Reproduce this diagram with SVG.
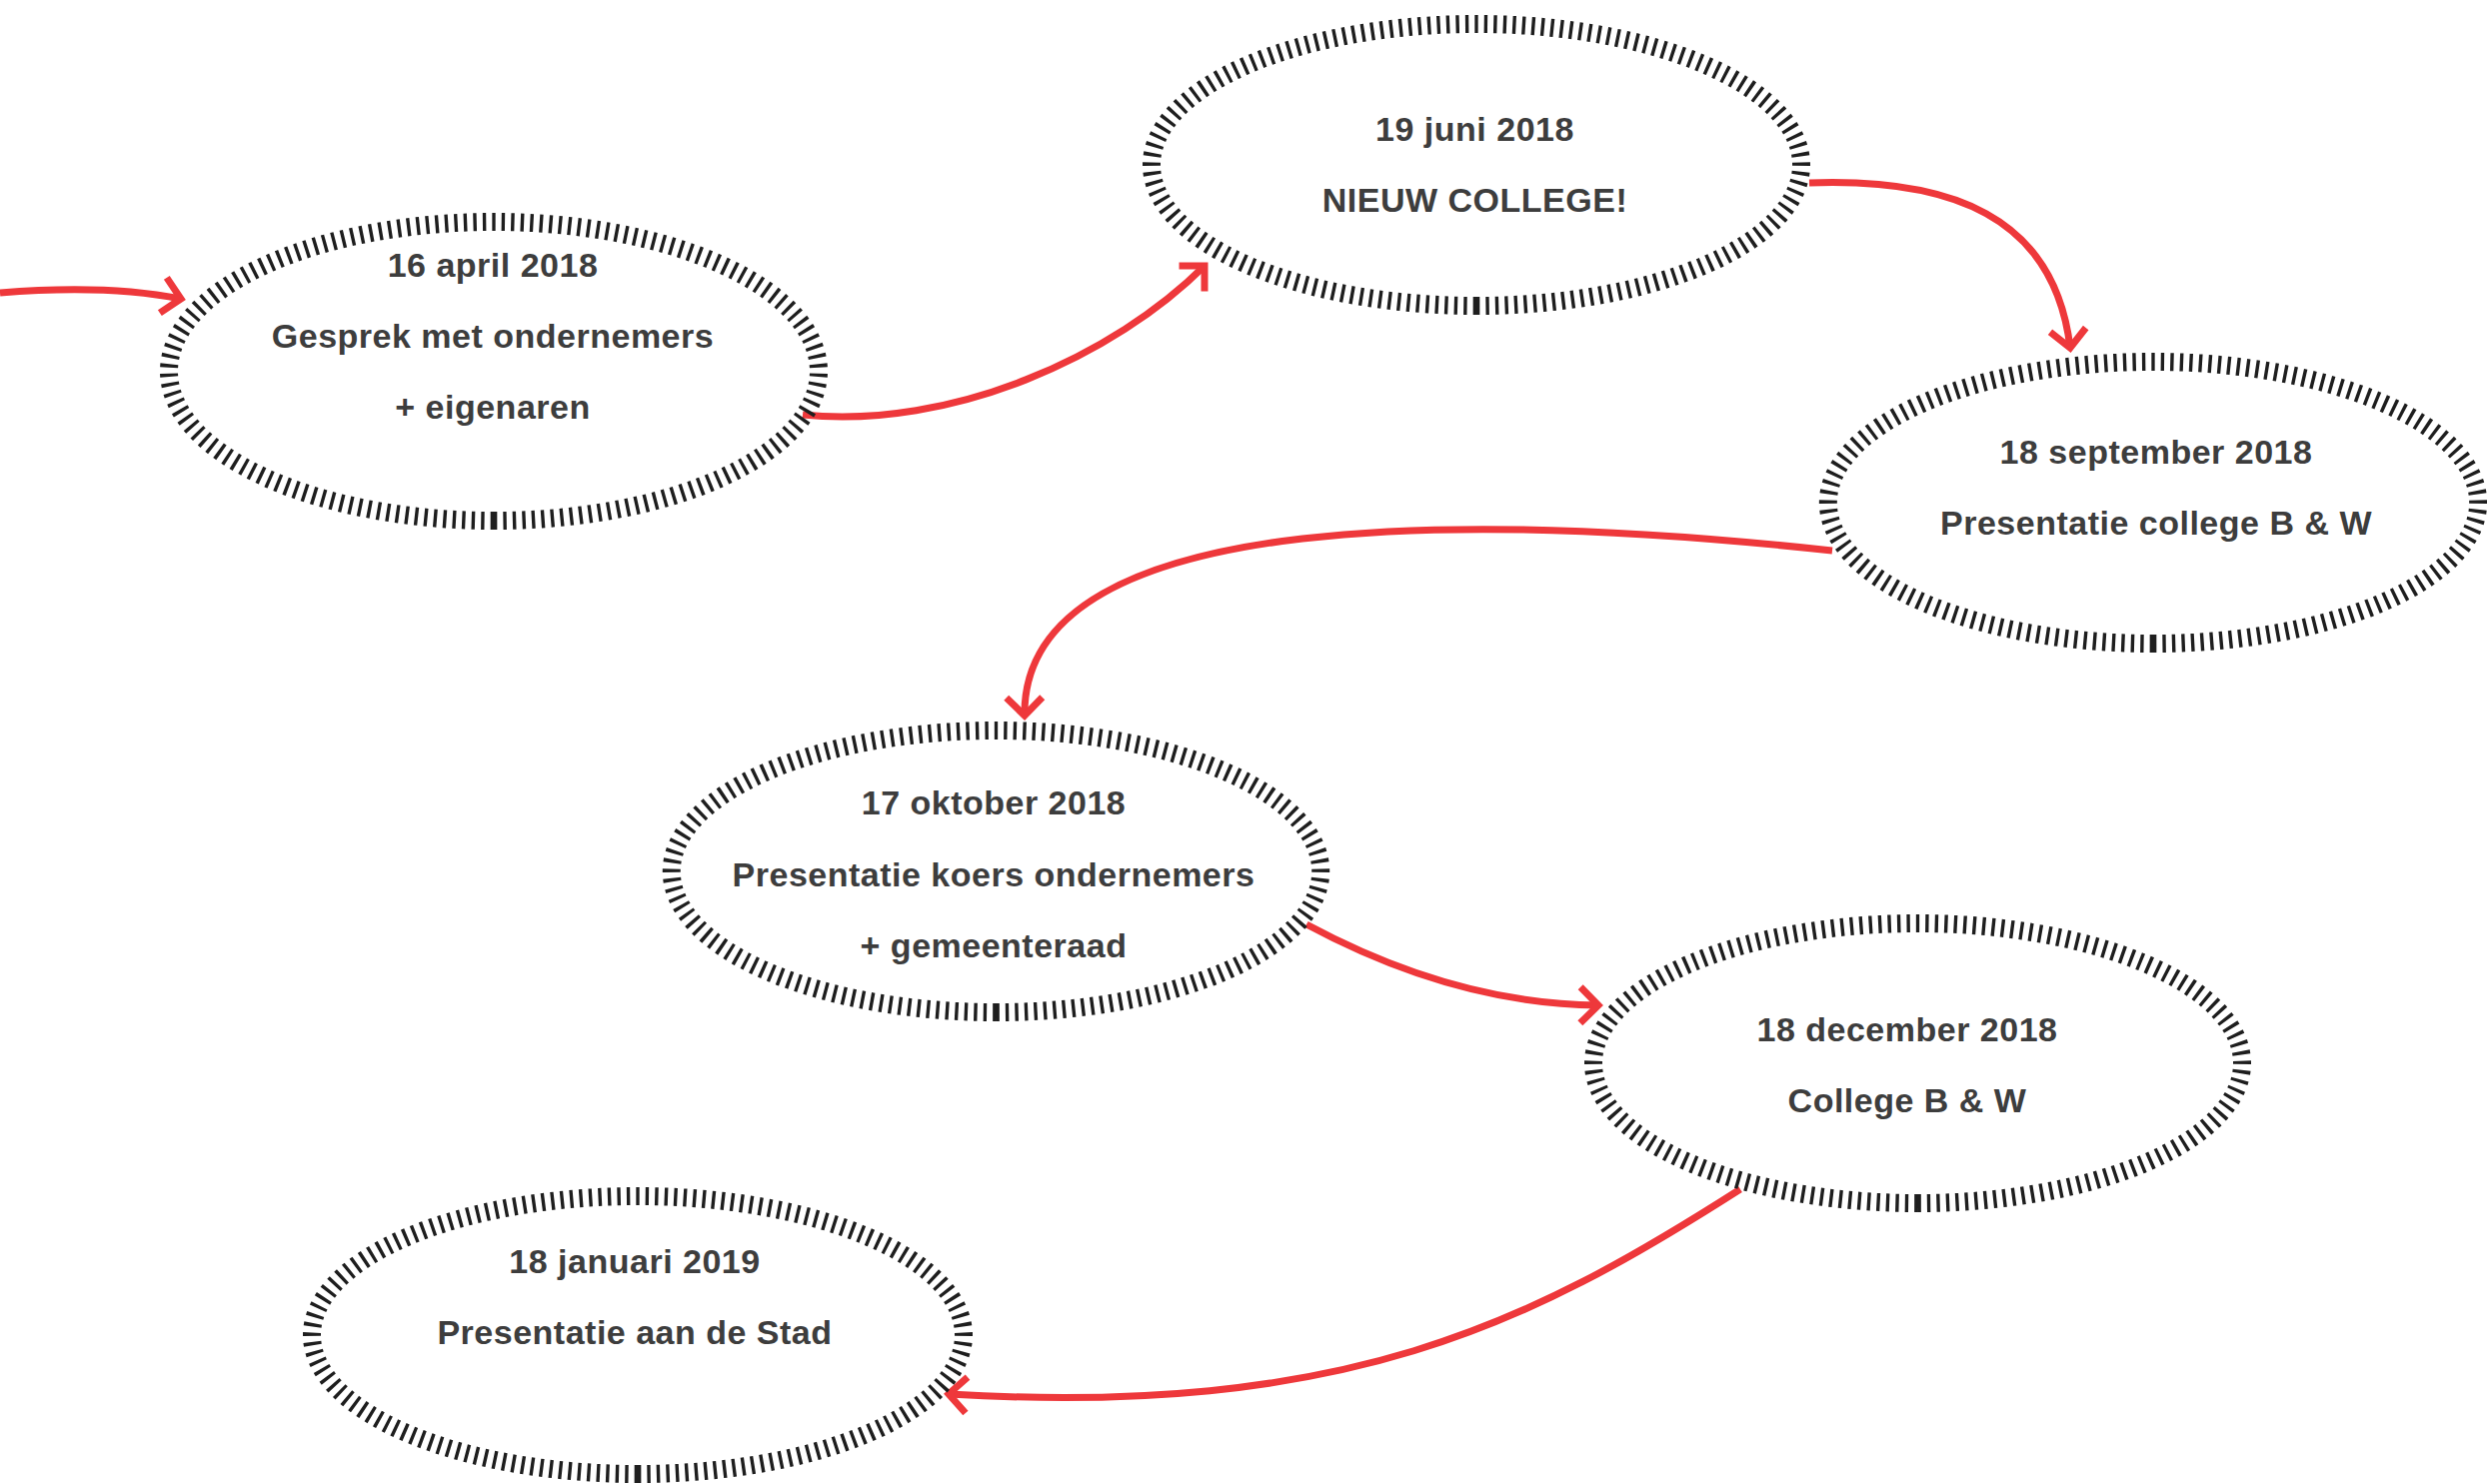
<svg xmlns="http://www.w3.org/2000/svg" width="2488" height="1485" viewBox="0 0 2488 1485">
  <style>
    .ring { fill: none; stroke: #1e1e1e; stroke-width: 18; stroke-dasharray: 3.4 6.1; }
    .lbl { font-family: "Liberation Sans", Arial, Helvetica, sans-serif; font-weight: bold; font-size: 34px; letter-spacing: 0.5px; fill: #3d3d3d; text-anchor: middle; }
    .conn { fill: none; stroke: #ee383b; stroke-width: 7; marker-end: url(#arr); }
  </style>
  <defs>
    <marker id="arr" markerUnits="userSpaceOnUse" viewBox="-30 -25 40 50" refX="0" refY="0" markerWidth="40" markerHeight="50" orient="auto">
      <path d="M-18,-18 L0,0 L-18,18" fill="none" stroke="#ee383b" stroke-width="7" stroke-linejoin="miter"/>
    </marker>
  </defs>
  <rect width="2488" height="1485" fill="#ffffff"/>

  <g id="connectors">
    <path class="conn" d="M0,293 C60,288 125,288 181,299"/>
    <path class="conn" d="M803,415 C953,430 1115,356 1205,266"/>
    <path class="conn" d="M1810,183 C1950,178 2055,215 2071,348"/>
    <path class="conn" d="M1833,551 C1500,515 1022,500 1025,716"/>
    <path class="conn" d="M1307,925 C1400,975 1500,1005 1599,1006"/>
    <path class="conn" d="M1741,1190 C1530,1325 1345,1418 949,1395"/>
  </g>

  <g id="node-16-april-2018">
    <path class="ring" pathLength="1542.4" d="M494,521 A325,149.5 0 1 1 494,222 A325,149.5 0 1 1 494,521"/>
    <text class="lbl" x="493" y="277">16 april 2018</text>
    <text class="lbl" x="493" y="348">Gesprek met ondernemers</text>
    <text class="lbl" x="493" y="419">+ eigenaren</text>
  </g>

  <g id="node-19-juni-2018">
    <path class="ring" pathLength="1523.4" d="M1477,306 A325,141 0 1 1 1477,24 A325,141 0 1 1 1477,306"/>
    <text class="lbl" x="1475.5" y="141">19 juni 2018</text>
    <text class="lbl" x="1475.5" y="212">NIEUW COLLEGE!</text>
  </g>

  <g id="node-18-september-2018">
    <path class="ring" pathLength="1523.4" d="M2154,644 A325,141 0 1 1 2154,362 A325,141 0 1 1 2154,644"/>
    <text class="lbl" x="2157" y="464">18 september 2018</text>
    <text class="lbl" x="2157" y="535">Presentatie college B &amp; W</text>
  </g>

  <g id="node-17-oktober-2018">
    <path class="ring" pathLength="1523.4" d="M996.5,1013 A324.5,141 0 1 1 996.5,731 A324.5,141 0 1 1 996.5,1013"/>
    <text class="lbl" x="994" y="815">17 oktober 2018</text>
    <text class="lbl" x="994" y="886.5">Presentatie koers ondernemers</text>
    <text class="lbl" x="994" y="958">+ gemeenteraad</text>
  </g>

  <g id="node-18-december-2018">
    <path class="ring" pathLength="1523.4" d="M1918.5,1204 A324.5,140 0 1 1 1918.5,924 A324.5,140 0 1 1 1918.5,1204"/>
    <text class="lbl" x="1908" y="1042">18 december 2018</text>
    <text class="lbl" x="1908" y="1113">College B &amp; W</text>
  </g>

  <g id="node-18-januari-2019">
    <path class="ring" pathLength="1523.4" d="M638,1475 A326,139 0 1 1 638,1197 A326,139 0 1 1 638,1475"/>
    <text class="lbl" x="635" y="1274">18 januari 2019</text>
    <text class="lbl" x="635" y="1345">Presentatie aan de Stad</text>
  </g>
</svg>
